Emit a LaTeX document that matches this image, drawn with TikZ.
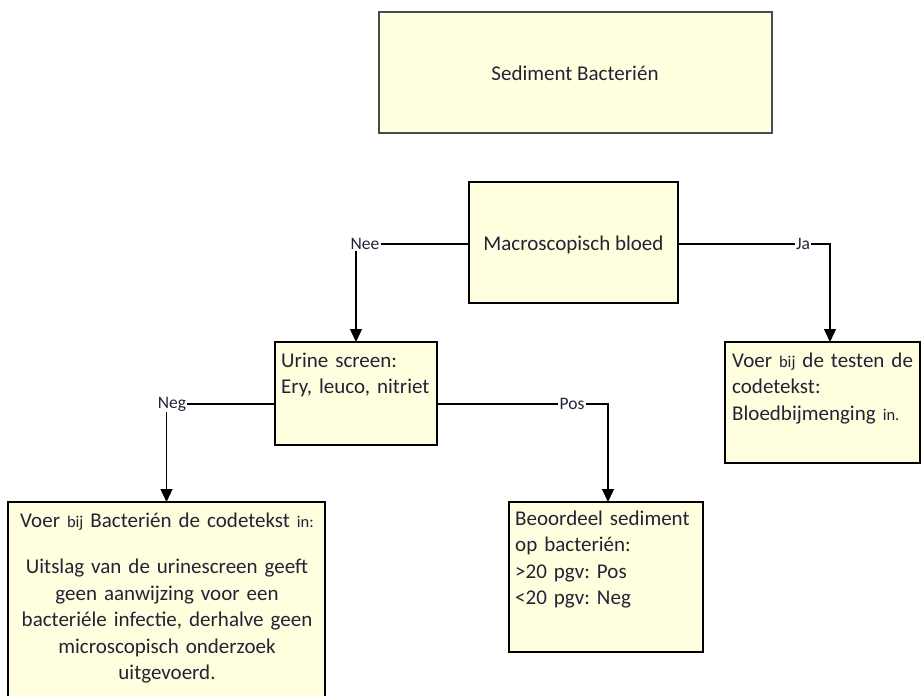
\documentclass[tikz,border=0pt]{standalone}
\usepackage{fontspec}
\setmainfont{Carlito}
\usetikzlibrary{arrows.meta,calc}
\definecolor{boxfill}{RGB}{255,254,222}
\definecolor{txt}{RGB}{35,35,55}
\definecolor{titleborder}{RGB}{75,75,75}
\newcommand{\smtxt}[1]{{\fontsize{16.5}{20}\selectfont #1}}
\frenchspacing
\begin{document}
\begin{tikzpicture}[x=1pt,y=-1pt,
  box/.style={draw=black, line width=1.8pt, fill=boxfill, anchor=north west, inner sep=0pt, outer sep=0pt},
  txtnode/.style={text=txt, font=\fontsize{21}{26.5}\selectfont, inner sep=0pt},
  lbl/.style={text=txt, font=\fontsize{17.5}{20}\selectfont, inner sep=1pt},
  conn/.style={draw=black, line width=1.3pt},
  arr/.style={conn, -{Triangle[width=12pt,length=13pt]}}
]
\path[use as bounding box, clip] (0,0) rectangle (922,696);
\fill[white] (0,0) rectangle (922,696);

% boxes
\node[box, draw=titleborder, line width=2.5pt, minimum width=393pt, minimum height=121pt] (title) at (379,12) {};
\node[txtnode, anchor=base] (titletxt) at (575,80) {Sediment Bacterién};

\node[box, minimum width=209pt, minimum height=121pt] (macro) at (469,182) {};
\node[txtnode, anchor=base] (macrotxt) at (573.5,250) {Macroscopisch bloed};

\node[box, minimum width=162pt, minimum height=103pt] (urine) at (275,342) {};
\node[txtnode, anchor=base west, text width=155pt, align=left] (urinetxt) at (281,367) {Urine screen:\\Ery, leuco, nitriet};

\node[box, minimum width=195pt, minimum height=121pt] (right) at (725,342) {};
\node[txtnode, anchor=base west, text width=186pt, align=left] (righttxt) at (732,367) {Voer \smtxt{bij} de testen de\\codetekst:\\Bloedbijmenging \smtxt{in.}};

\node[box, minimum width=317pt, minimum height=230pt] (voer) at (8,502) {};
\node[txtnode, anchor=base, text width=312pt, align=center] (voertxt) at (167,527) {Voer \smtxt{bij} Bacterién de codetekst \smtxt{in:}\\[20pt]Uitslag van de urinescreen geeft\\geen aanwijzing voor een\\bacteriéle infectie, derhalve geen\\microscopisch onderzoek\\uitgevoerd.};

\node[box, minimum width=194pt, minimum height=150pt] (beo) at (509,502) {};
\node[txtnode, anchor=base west, text width=186pt, align=left] (beotxt) at (515,525) {Beoordeel sediment\\op bacterién:\\>20 pgv: Pos\\<20 pgv: Neg};

% labels
\node[lbl] (nee) at (365,244) {Nee};
\node[lbl] (ja) at (803,244) {Ja};
\node[lbl] (neg) at (172,404) {Neg};
\node[lbl] (pos) at (572,404) {Pos};
\coordinate (jacorner) at (830,244);
\coordinate (poscorner) at (608,404);

% connectors
\draw[conn] (nee.east) -- (nee.east -| macro.west);
\draw[arr] (urine.north |- nee.south) -- (urine.north);
\draw[conn] (ja.west -| macro.east) -- (ja.west);
\draw[arr] (ja.east) -- (jacorner) -- (jacorner |- right.north);
\draw[conn] (neg.east) -- (neg.east -| urine.west);
\draw[arr] (voer.north |- neg.south) -- (voer.north);
\draw[conn] (pos.west -| urine.east) -- (pos.west);
\draw[arr] (pos.east) -- (poscorner) -- (poscorner |- beo.north);
\end{tikzpicture}
\end{document}
